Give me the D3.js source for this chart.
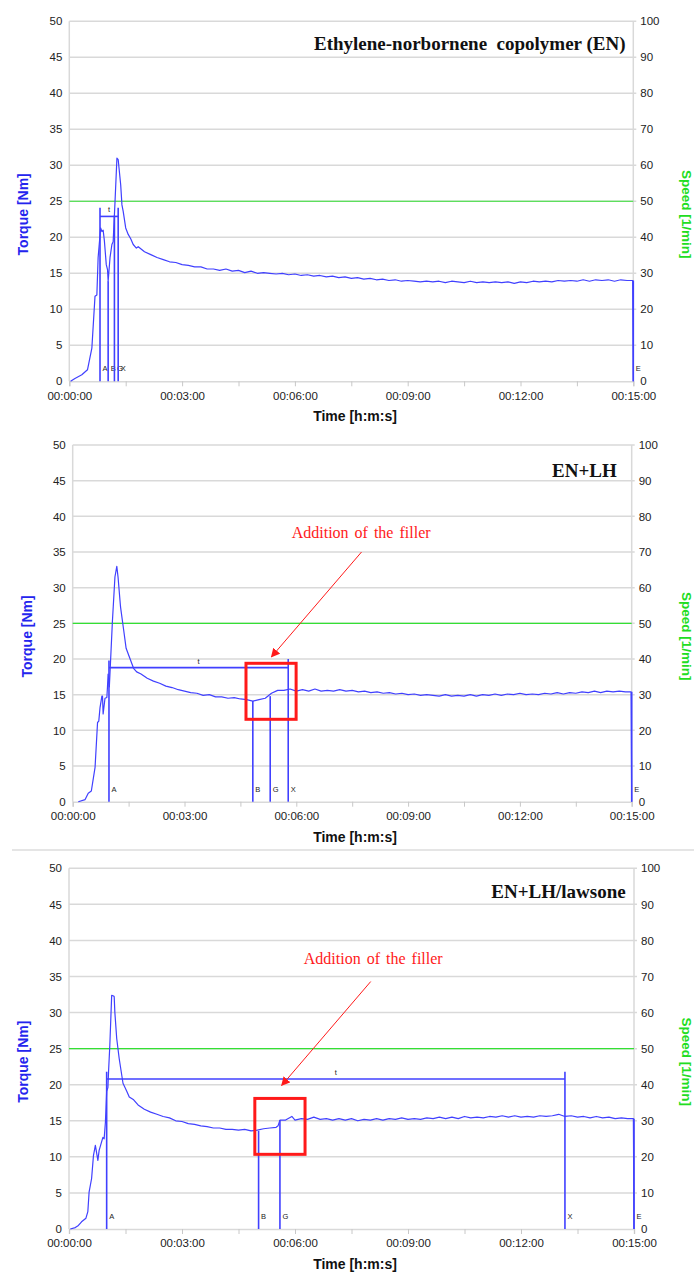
<!DOCTYPE html>
<html><head><meta charset="utf-8">
<script src="https://cdn.jsdelivr.net/npm/d3@7"></script>
<style>
html,body{margin:0;padding:0;background:#fff;}
svg{display:block;font-family:"Liberation Sans",Arial,sans-serif;}
</style></head>
<body>
<script>
// ---------------- DATA ----------------
const timeTicks = [0,180,360,540,720,900];
const timeTickLabels = ["00:00:00","00:03:00","00:06:00","00:09:00","00:12:00","00:15:00"];
const torqueTicks = [0,5,10,15,20,25,30,35,40,45,50];
const speedTicks = [0,10,20,30,40,50,60,70,80,90,100];
const speedValue = 50;

const panelTitles = ["Ethylene-norbornene  copolymer (EN)","EN+LH","EN+LH/lawsone"];

// Panel 1: EN
const enTime = [2,9,20,29,36,41,44,46,50,52,54,56,59,61,62,65,68,70,73,76,77,78,82,84,86,90,94,98,102,107,
110,120,130,140,150,160,170,180,190,200,210,220,230,240,250,260,270,280,290,300,310,320,330,340,350,360,370,380,390,400,
410,420,430,440,450,460,470,480,490,500,510,520,530,540,550,560,570,580,590,600,610,620,630,640,650,660,670,680,690,700,
710,720,730,740,750,760,770,780,790,800,810,820,830,840,850,860,870,880,890,899,900];
const enTorque = [0,0.4,0.9,1.6,4.6,11.8,12.0,17.2,21.3,20.8,21.0,19.5,16.2,15.5,13.9,17.2,19.0,19.4,25.0,31.0,30.9,30.8,27.3,24.5,23.6,21.3,20.4,19.8,19.0,18.5,
18.7,18.0,17.6,17.2,16.9,16.6,16.5,16.2,16.1,15.9,15.9,15.6,15.6,15.4,15.6,15.3,15.4,15.1,15.3,15.0,15.1,15.0,14.9,15.0,14.8,14.9,14.7,14.8,14.6,14.7,
14.5,14.6,14.4,14.5,14.3,14.4,14.2,14.3,14.1,14.2,14.0,14.1,13.9,14.0,13.9,13.8,13.9,13.8,13.9,13.7,13.9,13.8,13.7,13.9,13.7,13.8,13.7,13.8,13.7,13.8,
13.6,13.8,13.7,13.9,13.8,13.9,13.8,14.0,13.9,14.0,13.9,14.1,13.9,14.1,14.0,14.1,13.9,14.1,14.0,14.0,0];
const enMarkerLabels = ["A","B","G","X","E"];
const enMarkerTimes  = [49,62,72,78,900];
const enMarkerTops   = [24.1,13.9,23.0,24.1,14.0];
const enTBar = [49,78,22.9];

// Panel 2: EN+LH
const lhTime = [9,20,25,30,36,40,42,44,47,48,49,52,55,56,57,59,61,64,68,71,73,77,82,86,92,98,103,
110,120,130,140,150,160,170,180,190,200,210,220,230,240,250,260,270,280,290,300,310,320,330,340,350,360,370,380,390,400,
410,420,430,440,450,460,470,480,490,500,510,520,530,540,550,560,570,580,590,600,610,620,630,640,650,660,670,680,690,700,
710,720,730,740,750,760,770,780,790,800,810,820,830,840,850,860,870,880,890,899,900];
const lhTorque = [0,0.3,1.2,1.5,4.8,11.1,11.3,13.2,14.8,14.8,12.3,14.5,14.6,16.1,17.9,16.1,19.8,25.4,31.5,33.0,31.5,27.3,24.1,21.5,20.1,18.7,18.2,
17.9,17.3,16.9,16.6,16.2,16.0,15.7,15.5,15.3,15.2,14.9,15.0,14.7,14.7,14.5,14.6,14.4,14.3,14.1,14.3,14.5,15.2,15.6,15.6,15.8,15.5,15.7,15.5,15.8,15.5,
15.6,15.5,15.7,15.5,15.6,15.4,15.5,15.3,15.4,15.2,15.3,15.1,15.2,15.0,15.1,14.9,15.0,14.9,14.8,15.0,14.8,14.9,14.8,15.0,14.8,15.0,14.9,15.1,14.9,15.1,
15.0,15.2,15.0,15.1,15.0,15.2,15.1,15.3,15.1,15.3,15.2,15.4,15.3,15.5,15.3,15.5,15.4,15.5,15.4,15.4,0];
const lhMarkerLabels = ["A","B","G","X","E"];
const lhMarkerTimes  = [58.4,290,318,347,900];
const lhMarkerTops   = [19.8,14.1,14.8,20.0,15.4];
const lhTBar = [58.4,347,18.8];

// Panel 3: EN+LH/lawsone
const lawTime = [2,10,15,20,27,30,32,36,39,42,46,48,51,54,56,58,60,62,63,65,68,71,72,73,76,80,86,92,96,103,
110,120,130,140,150,160,170,180,190,200,210,220,230,240,250,260,270,280,290,300,310,320,330,333,336,345,355,360,370,380,390,400,
410,420,430,440,450,460,470,480,490,500,510,520,530,540,550,560,570,580,590,600,610,620,630,640,650,660,670,680,690,700,
710,720,730,740,750,760,770,780,790,800,810,820,830,840,850,860,870,880,890,899,900];
const lawTorque = [0,0.2,0.5,1.0,1.5,2.4,5.1,7.0,10.2,11.6,9.5,10.9,11.8,12.7,12.5,14.8,19.1,19.6,21.8,25.4,32.4,32.3,32.2,30.1,26.4,23.6,20.2,19.1,18.3,17.9,
17.2,16.6,16.2,15.9,15.6,15.4,15.0,14.9,14.6,14.5,14.3,14.2,14.0,14.0,13.8,13.8,13.7,13.8,13.6,13.7,13.9,14.0,14.1,14.3,15.1,15.1,15.6,15.1,15.3,15.2,15.5,15.2,
15.3,15.1,15.3,15.1,15.3,15.0,15.2,15.1,15.3,15.1,15.3,15.2,15.4,15.2,15.3,15.2,15.4,15.3,15.5,15.3,15.5,15.3,15.6,15.4,15.5,15.4,15.6,15.5,15.7,15.5,
15.7,15.5,15.6,15.5,15.7,15.6,15.7,15.9,15.6,15.7,15.5,15.6,15.4,15.6,15.4,15.5,15.3,15.4,15.3,15.3,0];
const lawMarkerLabels = ["A","B","G","X","E"];
const lawMarkerTimes  = [60,302,336,790,900];
const lawMarkerTops   = [21.8,13.6,15.1,21.8,15.3];
const lawTBar = [60,790,20.8];

const annotText = "Addition of the filler";

// ---------------- LAYOUT ----------------
const W = 694, H = 1275;
const SERIF = '"Liberation Serif","Times New Roman",serif';
const SANS = '"Liberation Sans",Arial,sans-serif';
const panels = [
  {title:panelTitles[0], time:enTime, torque:enTorque, mLab:enMarkerLabels, mT:enMarkerTimes, mTop:enMarkerTops, tbar:enTBar,
   frame:{l:69.3,r:633.3,t:21.3,b:381.3}, titlePos:[625.5,50], annot:null},
  {title:panelTitles[1], time:lhTime, torque:lhTorque, mLab:lhMarkerLabels, mT:lhMarkerTimes, mTop:lhMarkerTops, tbar:lhTBar,
   frame:{l:72.7,r:631.7,t:445,b:801.7}, titlePos:[616.7,476.7],
   annot:{text:[352.6,37.0], from:[465,35.0], to:[320,20.3], box:[279,359.7,19.4,11.55]}},
  {title:panelTitles[2], time:lawTime, torque:lawTorque, mLab:lawMarkerLabels, mT:lawMarkerTimes, mTop:lawMarkerTops, tbar:lawTBar,
   frame:{l:69,r:634,t:868.3,b:1229}, titlePos:[625.7,898.3],
   annot:{text:[374,36.7], from:[480.6,34.3], to:[338.8,19.9], box:[296,376,18.1,10.35]}}
];

const BLUE = "#4040ff", GREEN = "#33e033", GRID = "#d9d9d9", RED = "#ff1a1a";

const svg = d3.select("body").append("svg").attr("width",W).attr("height",H);
const defs = svg.append("defs");
defs.append("marker").attr("id","arr").attr("viewBox","0 0 10 10").attr("refX",9).attr("refY",5)
  .attr("markerWidth",9).attr("markerHeight",9).attr("markerUnits","userSpaceOnUse").attr("orient","auto")
  .append("path").attr("d","M0,0L10,5L0,10z").attr("fill",RED);

// separator between panel 2 and 3
svg.append("line").attr("x1",12).attr("x2",W).attr("y1",850).attr("y2",850)
  .attr("stroke","#dcdcdc").attr("stroke-width",1.5);

panels.forEach((p,i)=>{
  const f = p.frame;
  const x = d3.scaleLinear().domain([0,900]).range([f.l,f.r]);
  const y = d3.scaleLinear().domain([0,50]).range([f.b,f.t]);
  const y2 = d3.scaleLinear().domain([0,100]).range([f.b,f.t]);
  const g = svg.append("g");

  g.selectAll(".grid").data(torqueTicks.slice(1)).join("line")
    .attr("x1",f.l).attr("x2",f.r+3).attr("y1",d=>y(d)).attr("y2",d=>y(d))
    .attr("stroke",GRID).attr("stroke-width",1.5);
  g.append("line").attr("x1",f.l).attr("x2",f.l).attr("y1",f.t).attr("y2",f.b).attr("stroke",GRID).attr("stroke-width",1.5);
  g.append("line").attr("x1",f.r).attr("x2",f.r).attr("y1",f.t).attr("y2",f.b).attr("stroke",GRID).attr("stroke-width",1.5);

  const xAxis = d3.axisBottom(x).tickValues(d3.range(0,901,90)).tickSize(5)
    .tickFormat(d=>{const k=timeTicks.indexOf(d); return k>=0?timeTickLabels[k]:"";});
  const ax = g.append("g").attr("transform",`translate(0,${f.b})`).call(xAxis);
  ax.select(".domain").attr("stroke",GRID).attr("stroke-width",1.5);
  ax.selectAll(".tick line").attr("stroke","#c8c8c8");
  ax.selectAll(".tick text").style("font-size","11.5px").attr("fill","#222").attr("dy","0.9em").style("font-family",SANS);

  const yAxis = d3.axisLeft(y).tickValues(torqueTicks).tickSize(0).tickPadding(7);
  const ay = g.append("g").attr("transform",`translate(${f.l},0)`).call(yAxis);
  ay.select(".domain").remove();
  ay.selectAll(".tick text").style("font-size","11.5px").attr("fill","#222").style("font-family",SANS);

  const y2Axis = d3.axisRight(y2).tickValues(speedTicks).tickSize(0).tickPadding(7);
  const ar = g.append("g").attr("transform",`translate(${f.r},0)`).call(y2Axis);
  ar.select(".domain").remove();
  ar.selectAll(".tick text").style("font-size","11.5px").attr("fill","#222").style("font-family",SANS);

  const cy = (f.t+f.b)/2 + 13;
  g.append("text").attr("transform",`translate(${f.l-46},${cy}) rotate(-90)`).attr("text-anchor","middle")
    .attr("dy","0.35em").style("font-family",SANS).style("font-size","14px").style("font-weight","bold").attr("fill","#2424ee").text("Torque [Nm]");
  g.append("text").attr("transform",`translate(687,${cy}) rotate(90)`).attr("text-anchor","middle")
    .attr("dy","0.35em").style("font-family",SANS).style("font-size","13.5px").style("font-weight","bold").attr("fill","#22dd22").text("Speed [1/min]");
  g.append("text").attr("x",355).attr("y",f.b+40).attr("text-anchor","middle")
    .style("font-family",SANS).style("font-size","14px").style("font-weight","bold").attr("fill","#111").text("Time [h:m:s]");

  g.append("line").attr("x1",x(0)).attr("x2",x(900)).attr("y1",y2(speedValue)).attr("y2",y2(speedValue))
    .attr("stroke",GREEN).attr("stroke-width",1.1);

  p.mT.forEach((t,k)=>{
    g.append("line").attr("x1",x(t)).attr("x2",x(t)).attr("y1",y(0)).attr("y2",y(p.mTop[k]))
      .attr("stroke",BLUE).attr("stroke-width",1.6);
    g.append("text").attr("x",x(t)+2.5).attr("y",y(0)-10).style("font-size","7.5px").style("font-family",SANS)
      .attr("fill","#222").text(p.mLab[k]);
  });
  g.append("line").attr("x1",x(p.tbar[0])).attr("x2",x(p.tbar[1])).attr("y1",y(p.tbar[2])).attr("y2",y(p.tbar[2]))
    .attr("stroke",BLUE).attr("stroke-width",1.6);
  g.append("text").attr("x",(x(p.tbar[0])+x(p.tbar[1]))/2).attr("y",y(p.tbar[2])-4).attr("text-anchor","middle")
    .style("font-size","7.5px").style("font-family",SANS).attr("fill","#222").text("t");

  const pts = p.time.map((t,k)=>[t,p.torque[k]]);
  g.append("path").datum(pts).attr("fill","none").attr("stroke",BLUE).attr("stroke-width",1.2)
    .attr("stroke-linejoin","round")
    .attr("d",d3.line().x(d=>x(d[0])).y(d=>y(d[1])));

  g.append("text").attr("x",p.titlePos[0]).attr("y",p.titlePos[1]).attr("text-anchor","end")
    .style("white-space","pre").style("font-family",SERIF)
    .style("font-size","19px").style("font-weight","bold").attr("fill","#111").text(p.title);

  if(p.annot){
    const a = p.annot;
    g.append("text").attr("x",x(a.text[0])).attr("y",y(a.text[1])).style("font-family",SERIF)
      .style("font-size","16px").style("word-spacing","2px").attr("fill",RED).text(annotText);
    g.append("line").attr("x1",x(a.from[0])).attr("y1",y(a.from[1])).attr("x2",x(a.to[0])).attr("y2",y(a.to[1]))
      .attr("stroke",RED).attr("stroke-width",1).attr("marker-end","url(#arr)");
    g.append("rect").attr("x",x(a.box[0])).attr("y",y(a.box[2])).attr("width",x(a.box[1])-x(a.box[0]))
      .attr("height",y(a.box[3])-y(a.box[2])).attr("fill","none").attr("stroke",RED).attr("stroke-width",3);
  }
});
</script>
</body></html>
